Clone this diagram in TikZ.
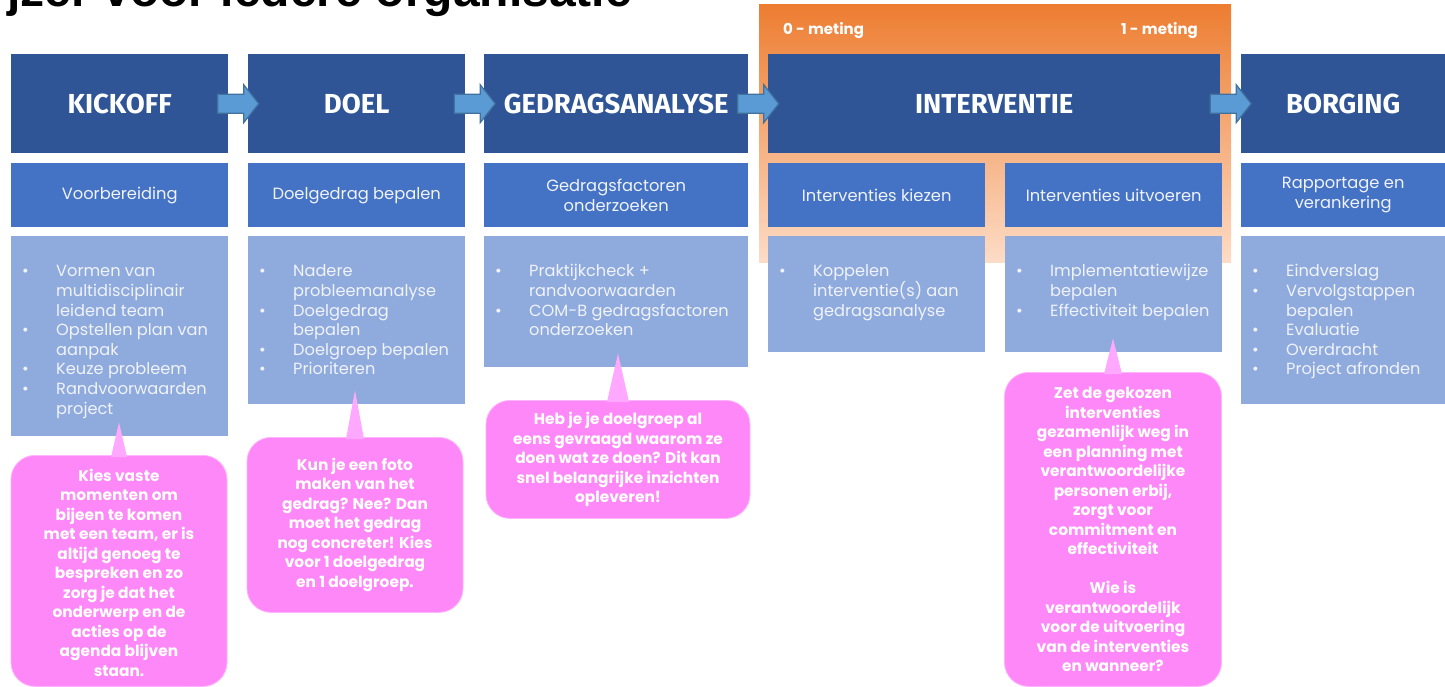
\documentclass[tikz,border=0pt]{standalone}
\usepackage{fontspec}
\setmainfont{Poppins}
\newfontfamily\headfont{Fira Sans}
\newfontfamily\titlefont{Liberation Sans}
\usetikzlibrary{calc}
\definecolor{headblue}{HTML}{2F5597}
\definecolor{subblue}{HTML}{4472C4}
\definecolor{listblue}{HTML}{8FAADC}
\definecolor{tippink}{HTML}{FF88F8}
\definecolor{pointpink}{HTML}{FFA8FF}
\definecolor{tipedge}{HTML}{FFB4FF}
\definecolor{arrowblue}{HTML}{5B9BD5}
\definecolor{arrowedge}{HTML}{41719C}
\definecolor{measorange}{HTML}{ED7D31}
\definecolor{measmid}{HTML}{F6B48E}
\definecolor{measpeach}{HTML}{FDDCC6}
\definecolor{paletext}{HTML}{F0F3FA}

% one bullet line of a list
\newcommand{\itm}[1]{\par\hangindent=34pt\hangafter=1\noindent\strut\makebox[34pt][l]{\textbullet}#1}
% list box content: height, width, items (top aligned)
\newcommand{\lijst}[3]{\parbox[c][#1][t]{#2}{\raggedright\lineskiplimit=-20pt\vspace*{27pt}#3\par}}
% block arrow between two header boxes
\newcommand{\flowarrow}[2]{%
  \draw[barrow] ($(#1.east)!0.5!(#2.west)$) ++(-20.5,-9.5) -- ++(26,0) -- ++(0,-9.5)
    -- ++(15,19) -- ++(-15,19) -- ++(0,-9.5) -- ++(-26,0) -- cycle;}
% speech pointer from a list box to its tip box
\newcommand{\pointto}[3]{%
  \fill[pointer] ($(#2.north |- #1.south)+(0,-14)$) -- ($(#2.north)+(-#3,2)$) -- ($(#2.north)+(#3,2)$) -- cycle;}

\begin{document}
\begin{tikzpicture}[x=1pt, y=-1pt,
  head/.style={anchor=north west, fill=headblue, text=white, inner sep=0, minimum height=99pt,
    font=\headfont\bfseries\fontsize{27.5}{30}\selectfont},
  sub/.style={anchor=north west, fill=subblue, text=paletext, inner sep=0, minimum height=64pt,
    align=center, font=\fontsize{16.3}{20}\selectfont},
  list/.style={anchor=north west, fill=listblue, text=paletext, inner xsep=11pt, inner ysep=0,
    font=\fontsize{16.2}{19.6}\selectfont},
  tip/.style={anchor=north west, fill=tippink, draw=tipedge, line width=0.8pt, rounded corners=24pt,
    text=white, inner sep=0, align=center, font=\bfseries\fontsize{15.4}{19.5}\selectfont},
  pointer/.style={fill=pointpink},
  barrow/.style={fill=arrowblue, draw=arrowedge, line width=1.2pt, line join=miter},
  meas/.style={text=white, inner sep=0, font=\bfseries\fontsize{15}{18}\selectfont}]
  \useasboundingbox (0,0) rectangle (1445,687);

  \node[anchor=base east, inner sep=0, font=\titlefont\bfseries\fontsize{48}{54}\selectfont] (title) at (632,7) {jzer voor iedere organisatie};

  % measurement band behind INTERVENTIE
  \shade[top color=measorange, middle color=measmid, bottom color=measpeach] (759,5) rectangle (1231,262);
  \node[meas, anchor=west] (meting0) at (783,31) {0 - meting};
  \node[meas, anchor=east] (meting1) at (1198,31) {1 - meting};

  \node[head, minimum width=217pt] (kickoff) at (11,54) {KICKOFF};
  \node[head, minimum width=217pt] (doel) at (248,54) {DOEL};
  \node[head, minimum width=264pt] (analyse) at (484,54) {GEDRAGSANALYSE};
  \node[head, minimum width=452pt] (interventie) at (768,54) {INTERVENTIE};
  \node[head, minimum width=204pt] (borging) at (1241,54) {BORGING};

  \node[sub, minimum width=217pt] (voorb) at (11,163) {Voorbereiding};
  \node[sub, minimum width=217pt] (doelgedrag) at (248,163) {Doelgedrag bepalen};
  \node[sub, minimum width=264pt] (factoren) at (484,163) {Gedragsfactoren\\onderzoeken};
  \node[sub, minimum width=217pt] (kiezen) at (768,163) {Interventies kiezen};
  \node[sub, minimum width=217pt] (uitvoeren) at (1005,163) {Interventies uitvoeren};
  \node[sub, minimum width=204pt] (rapport) at (1241,163) {Rapportage en\\verankering};

  \node[list] (lijst1) at (11,236) {\lijst{200pt}{195pt}{%
    \itm{Vormen van\newline multidisciplinair\newline leidend team}
    \itm{Opstellen plan van\newline aanpak}
    \itm{Keuze probleem}
    \itm{Randvoorwaarden\newline project}}};
  \node[list] (lijst2) at (248,236) {\lijst{168pt}{195pt}{%
    \itm{Nadere\newline probleemanalyse}
    \itm{Doelgedrag\newline bepalen}
    \itm{Doelgroep bepalen}
    \itm{Prioriteren}}};
  \node[list] (lijst3) at (484,236) {\lijst{131pt}{242pt}{%
    \itm{Praktijkcheck +\newline randvoorwaarden}
    \itm{COM-B gedragsfactoren\newline onderzoeken}}};
  \node[list] (lijst4) at (768,236) {\lijst{116pt}{195pt}{%
    \itm{Koppelen\newline interventie(s) aan\newline gedragsanalyse}}};
  \node[list] (lijst5) at (1005,236) {\lijst{116pt}{195pt}{%
    \itm{Implementatiewijze\newline bepalen}
    \itm{Effectiviteit bepalen}}};
  \node[list] (lijst6) at (1241,236) {\lijst{168pt}{182pt}{%
    \itm{Eindverslag}
    \itm{Vervolgstappen\newline bepalen}
    \itm{Evaluatie}
    \itm{Overdracht}
    \itm{Project afronden}}};

  \flowarrow{kickoff}{doel}
  \flowarrow{doel}{analyse}
  \flowarrow{analyse}{interventie}
  \flowarrow{interventie}{borging}

  % tips
  \coordinate (t1) at (119,455);
  \coordinate (t2) at (355,437);
  \coordinate (t3) at (618,400);
  \coordinate (t4) at (1113,372);
  \node[tip, anchor=north, minimum width=216pt, minimum height=231pt] (tip1) at (t1) {};
  \node[tip, anchor=north, minimum width=216pt, minimum height=175pt] (tip2) at (t2) {};
  \node[tip, anchor=north, minimum width=264pt, minimum height=118pt] (tip3) at (t3) {};
  \node[tip, anchor=north, minimum width=217pt, minimum height=314pt] (tip4) at (t4) {};
  \pointto{lijst1}{tip1}{8}
  \pointto{lijst2}{tip2}{9}
  \pointto{lijst3}{tip3}{11}
  \pointto{lijst5}{tip4}{9}
  \node[tip, draw=none, fill=none, anchor=center] (tekst1) at ($(tip1.center)+(0,1.5)$) {Kies vaste\\momenten om\\bijeen te komen\\met een team, er is\\altijd genoeg te\\bespreken en zo\\zorg je dat het\\onderwerp en de\\acties op de\\agenda blijven\\staan.};
  \node[tip, draw=none, fill=none, anchor=center] (tekst2) at (tip2.center) {Kun je een foto\\maken van het\\gedrag? Nee? Dan\\moet het gedrag\\nog concreter! Kies\\voor 1 doelgedrag\\en 1 doelgroep.};
  \node[tip, draw=none, fill=none, anchor=center] (tekst3) at (tip3.center) {Heb je je doelgroep al\\eens gevraagd waarom ze\\doen wat ze doen? Dit kan\\snel belangrijke inzichten\\opleveren!};
  \node[tip, draw=none, fill=none, anchor=center] (tekst4) at (tip4.center) {Zet de gekozen\\interventies\\gezamenlijk weg in\\een planning met\\verantwoordelijke\\personen erbij,\\zorgt voor\\commitment en\\effectiviteit\\[19.5pt]Wie is\\verantwoordelijk\\voor de uitvoering\\van de interventies\\en wanneer?};
\end{tikzpicture}
\end{document}
